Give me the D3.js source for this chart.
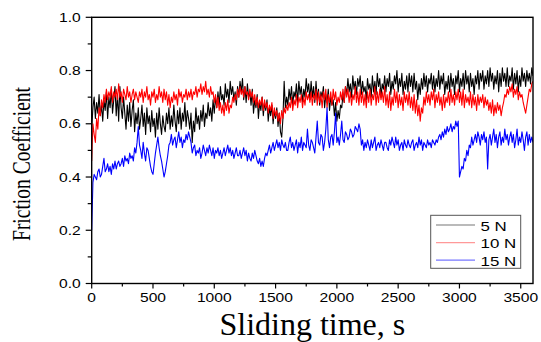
<!DOCTYPE html>
<html>
<head>
<meta charset="utf-8">
<script src="https://cdn.jsdelivr.net/npm/d3@7"></script>
<style>
  html, body { margin: 0; padding: 0; background: #fff; }
  svg { display: block; }
</style>
</head>
<body>
<div id="chart"></div>
<script>
// sampling step of the traces, s
const step = 10;

// 5 N trace (black), one value every 10 s from 0 to 3600 s
const load5N = [
  0.58, 0.66, 0.70, 0.62, 0.68, 0.64, 0.71, 0.63, 0.67, 0.61, 0.69, 0.65, 0.72, 0.62, 0.70, 0.66, 0.73, 0.64, 0.69, 0.74,
  0.63, 0.71, 0.61, 0.74, 0.66, 0.62, 0.70, 0.64, 0.58, 0.67, 0.61, 0.68, 0.59, 0.65, 0.69, 0.57, 0.64, 0.60, 0.66, 0.58,
  0.62, 0.67, 0.59, 0.64, 0.56, 0.66, 0.60, 0.63, 0.57, 0.65, 0.59, 0.62, 0.55, 0.64, 0.58, 0.66, 0.60, 0.56, 0.63, 0.59,
  0.57, 0.64, 0.60, 0.66, 0.58, 0.63, 0.59, 0.67, 0.61, 0.57, 0.65, 0.60, 0.66, 0.58, 0.64, 0.61, 0.68, 0.59, 0.65, 0.62,
  0.58, 0.64, 0.53, 0.61, 0.57, 0.66, 0.60, 0.63, 0.58, 0.65, 0.61, 0.67, 0.59, 0.64, 0.62, 0.68, 0.63, 0.66, 0.61, 0.69,
  0.64, 0.70, 0.66, 0.72, 0.67, 0.74, 0.69, 0.71, 0.67, 0.75, 0.70, 0.73, 0.68, 0.76, 0.71, 0.74, 0.69, 0.72, 0.67, 0.74,
  0.70, 0.76, 0.72, 0.77, 0.69, 0.74, 0.68, 0.75, 0.70, 0.72, 0.67, 0.73, 0.64, 0.69, 0.66, 0.71, 0.62, 0.68, 0.65, 0.70,
  0.63, 0.68, 0.65, 0.69, 0.61, 0.66, 0.63, 0.67, 0.60, 0.65, 0.62, 0.66, 0.59, 0.64, 0.57, 0.55, 0.62, 0.76, 0.66, 0.70,
  0.67, 0.73, 0.69, 0.74, 0.67, 0.72, 0.70, 0.75, 0.68, 0.76, 0.71, 0.74, 0.68, 0.73, 0.70, 0.77, 0.72, 0.75, 0.69, 0.76,
  0.70, 0.74, 0.68, 0.76, 0.69, 0.73, 0.67, 0.72, 0.70, 0.74, 0.66, 0.71, 0.68, 0.73, 0.65, 0.70, 0.67, 0.69, 0.63, 0.68,
  0.61, 0.65, 0.62, 0.67, 0.66, 0.71, 0.68, 0.74, 0.71, 0.77, 0.72, 0.75, 0.70, 0.78, 0.73, 0.76, 0.71, 0.77, 0.74, 0.78,
  0.71, 0.76, 0.72, 0.74, 0.69, 0.77, 0.73, 0.75, 0.70, 0.78, 0.72, 0.76, 0.71, 0.79, 0.74, 0.77, 0.70, 0.75, 0.73, 0.78,
  0.72, 0.77, 0.74, 0.79, 0.71, 0.76, 0.73, 0.78, 0.75, 0.80, 0.72, 0.77, 0.74, 0.79, 0.71, 0.76, 0.73, 0.78, 0.72, 0.79,
  0.74, 0.78, 0.72, 0.79, 0.73, 0.76, 0.69, 0.75, 0.71, 0.77, 0.73, 0.79, 0.74, 0.78, 0.72, 0.77, 0.75, 0.79, 0.73, 0.78,
  0.72, 0.77, 0.74, 0.80, 0.73, 0.78, 0.75, 0.79, 0.71, 0.76, 0.73, 0.78, 0.72, 0.79, 0.74, 0.77, 0.71, 0.78, 0.75, 0.80,
  0.72, 0.77, 0.74, 0.79, 0.73, 0.80, 0.75, 0.78, 0.72, 0.79, 0.74, 0.77, 0.71, 0.78, 0.75, 0.80, 0.73, 0.79, 0.76, 0.80,
  0.73, 0.78, 0.75, 0.80, 0.74, 0.81, 0.76, 0.79, 0.73, 0.78, 0.75, 0.80, 0.72, 0.79, 0.74, 0.81, 0.76, 0.79, 0.74, 0.81,
  0.74, 0.78, 0.76, 0.81, 0.73, 0.79, 0.75, 0.80, 0.72, 0.78, 0.74, 0.81, 0.76, 0.79, 0.74, 0.80, 0.76, 0.79, 0.75, 0.81,
  0.78
];

// 10 N trace (red)
const load10N = [
  0.46, 0.60, 0.56, 0.53, 0.62, 0.58, 0.66, 0.63, 0.69, 0.66, 0.71, 0.68, 0.73, 0.69, 0.72, 0.70, 0.74, 0.68, 0.72, 0.70,
  0.73, 0.69, 0.75, 0.70, 0.72, 0.68, 0.73, 0.71, 0.69, 0.74, 0.70, 0.72, 0.68, 0.71, 0.73, 0.69, 0.72, 0.70, 0.68, 0.72,
  0.70, 0.73, 0.68, 0.72, 0.70, 0.74, 0.69, 0.71, 0.67, 0.72, 0.70, 0.73, 0.68, 0.71, 0.69, 0.74, 0.70, 0.72, 0.68, 0.73,
  0.69, 0.72, 0.67, 0.71, 0.66, 0.70, 0.68, 0.72, 0.69, 0.71, 0.67, 0.73, 0.70, 0.72, 0.68, 0.71, 0.70, 0.73, 0.69, 0.72,
  0.70, 0.73, 0.69, 0.72, 0.71, 0.74, 0.70, 0.73, 0.72, 0.75, 0.71, 0.74, 0.72, 0.76, 0.71, 0.73, 0.70, 0.74, 0.71, 0.72,
  0.68, 0.71, 0.66, 0.70, 0.65, 0.68, 0.64, 0.67, 0.63, 0.68, 0.65, 0.69, 0.64, 0.67, 0.66, 0.70, 0.68, 0.71, 0.69, 0.73,
  0.70, 0.74, 0.71, 0.73, 0.70, 0.74, 0.71, 0.72, 0.69, 0.73, 0.70, 0.72, 0.68, 0.71, 0.67, 0.70, 0.66, 0.69, 0.67, 0.70,
  0.65, 0.69, 0.66, 0.68, 0.64, 0.67, 0.65, 0.68, 0.62, 0.66, 0.63, 0.65, 0.61, 0.64, 0.60, 0.65, 0.62, 0.66, 0.64, 0.67,
  0.65, 0.68, 0.66, 0.70, 0.65, 0.69, 0.67, 0.71, 0.66, 0.70, 0.68, 0.71, 0.66, 0.70, 0.67, 0.72, 0.69, 0.71, 0.68, 0.72,
  0.67, 0.71, 0.69, 0.73, 0.67, 0.72, 0.68, 0.71, 0.66, 0.72, 0.69, 0.73, 0.66, 0.71, 0.68, 0.72, 0.67, 0.73, 0.69, 0.72,
  0.67, 0.70, 0.68, 0.72, 0.69, 0.73, 0.68, 0.74, 0.70, 0.73, 0.68, 0.72, 0.67, 0.71, 0.69, 0.74, 0.68, 0.72, 0.67, 0.73,
  0.68, 0.72, 0.67, 0.71, 0.66, 0.72, 0.68, 0.73, 0.67, 0.71, 0.69, 0.74, 0.67, 0.72, 0.68, 0.73, 0.69, 0.72, 0.68, 0.74,
  0.67, 0.71, 0.66, 0.72, 0.65, 0.70, 0.67, 0.73, 0.68, 0.72, 0.66, 0.71, 0.67, 0.70, 0.65, 0.72, 0.68, 0.71, 0.67, 0.72,
  0.66, 0.70, 0.65, 0.71, 0.64, 0.69, 0.63, 0.67, 0.61, 0.66, 0.64, 0.70, 0.67, 0.72, 0.68, 0.71, 0.67, 0.72, 0.69, 0.73,
  0.66, 0.71, 0.68, 0.72, 0.67, 0.70, 0.65, 0.71, 0.66, 0.70, 0.68, 0.72, 0.67, 0.73, 0.68, 0.71, 0.67, 0.72, 0.69, 0.73,
  0.68, 0.72, 0.67, 0.73, 0.66, 0.71, 0.68, 0.70, 0.67, 0.72, 0.66, 0.71, 0.67, 0.70, 0.65, 0.71, 0.67, 0.70, 0.68, 0.71,
  0.66, 0.70, 0.67, 0.69, 0.65, 0.68, 0.64, 0.69, 0.63, 0.67, 0.64, 0.68, 0.65, 0.67, 0.63, 0.66, 0.68, 0.71, 0.70, 0.73,
  0.71, 0.74, 0.72, 0.75, 0.70, 0.73, 0.71, 0.74, 0.69, 0.72, 0.70, 0.71, 0.68, 0.66, 0.64, 0.67, 0.70, 0.73, 0.72, 0.75,
  0.76
];

// 15 N trace (blue)
const load15N = [
  0.20, 0.38, 0.41, 0.40, 0.39, 0.42, 0.43, 0.40, 0.41, 0.44, 0.47, 0.42, 0.43, 0.45, 0.42, 0.44, 0.41, 0.45, 0.43, 0.46,
  0.43, 0.45, 0.46, 0.44, 0.45, 0.47, 0.44, 0.48, 0.46, 0.47, 0.45, 0.49, 0.47, 0.48, 0.46, 0.51, 0.49, 0.53, 0.59, 0.52,
  0.50, 0.47, 0.53, 0.49, 0.46, 0.51, 0.50, 0.47, 0.44, 0.42, 0.41, 0.45, 0.49, 0.52, 0.55, 0.51, 0.48, 0.46, 0.43, 0.40,
  0.42, 0.45, 0.48, 0.52, 0.53, 0.56, 0.52, 0.54, 0.55, 0.51, 0.54, 0.57, 0.53, 0.55, 0.51, 0.54, 0.53, 0.56, 0.54, 0.57,
  0.55, 0.53, 0.49, 0.51, 0.52, 0.48, 0.50, 0.49, 0.51, 0.47, 0.49, 0.52, 0.50, 0.48, 0.51, 0.49, 0.52, 0.50, 0.48, 0.51,
  0.47, 0.50, 0.49, 0.51, 0.48, 0.50, 0.47, 0.49, 0.51, 0.48, 0.50, 0.52, 0.49, 0.51, 0.48, 0.50, 0.47, 0.49, 0.51, 0.48,
  0.48, 0.50, 0.47, 0.49, 0.51, 0.48, 0.50, 0.46, 0.49, 0.47, 0.46, 0.49, 0.47, 0.50, 0.48, 0.46, 0.45, 0.47, 0.44, 0.46,
  0.44, 0.47, 0.49, 0.48, 0.50, 0.52, 0.49, 0.51, 0.53, 0.50, 0.52, 0.54, 0.51, 0.53, 0.50, 0.54, 0.52, 0.51, 0.53, 0.50,
  0.50, 0.53, 0.55, 0.51, 0.53, 0.50, 0.52, 0.54, 0.49, 0.53, 0.51, 0.55, 0.50, 0.53, 0.52, 0.51, 0.58, 0.52, 0.50, 0.54,
  0.53, 0.51, 0.49, 0.55, 0.61, 0.53, 0.52, 0.56, 0.55, 0.50, 0.53, 0.58, 0.66, 0.54, 0.51, 0.55, 0.56, 0.52, 0.57, 0.64,
  0.53, 0.55, 0.52, 0.56, 0.61, 0.54, 0.53, 0.57, 0.56, 0.54, 0.55, 0.58, 0.57, 0.55, 0.56, 0.59, 0.58, 0.57, 0.60, 0.58,
  0.52, 0.54, 0.50, 0.53, 0.51, 0.54, 0.52, 0.50, 0.54, 0.51, 0.53, 0.55, 0.50, 0.52, 0.53, 0.51, 0.54, 0.52, 0.50, 0.53,
  0.53, 0.51, 0.50, 0.54, 0.52, 0.55, 0.53, 0.51, 0.55, 0.52, 0.54, 0.50, 0.52, 0.53, 0.50, 0.54, 0.52, 0.51, 0.54, 0.52,
  0.51, 0.53, 0.54, 0.50, 0.52, 0.53, 0.51, 0.55, 0.52, 0.54, 0.50, 0.53, 0.52, 0.51, 0.54, 0.52, 0.53, 0.51, 0.54, 0.53,
  0.52, 0.54, 0.53, 0.55, 0.56, 0.54, 0.57, 0.55, 0.58, 0.56, 0.59, 0.57, 0.58, 0.60, 0.57, 0.59, 0.58, 0.61, 0.59, 0.61,
  0.40, 0.42, 0.44, 0.43, 0.47, 0.46, 0.50, 0.48, 0.52, 0.51, 0.55, 0.52, 0.54, 0.56, 0.53, 0.57, 0.55, 0.52, 0.56, 0.54,
  0.57, 0.53, 0.55, 0.43, 0.54, 0.56, 0.52, 0.55, 0.58, 0.53, 0.56, 0.51, 0.55, 0.57, 0.52, 0.55, 0.53, 0.58, 0.54, 0.56,
  0.52, 0.55, 0.57, 0.53, 0.56, 0.51, 0.54, 0.58, 0.52, 0.55, 0.53, 0.57, 0.54, 0.50, 0.55, 0.57, 0.52, 0.56, 0.53, 0.55,
  0.53
];

const seriesNames = ["5 N", "10 N", "15 N"];
const seriesColors = ["#000000", "#ff0000", "#0000ff"];
const legendColors = ["#777777", "#ff9999", "#7777ff"];
const xTicks = [0, 500, 1000, 1500, 2000, 2500, 3000, 3500];
const yTicks = [0.0, 0.2, 0.4, 0.6, 0.8, 1.0];

const width = 541, height = 342;
// tick and legend labels in the reference are a little wide
const stretch = 1.25;

const x = d3.scaleLinear().domain([0, 3600]).range([91.7, 533]);
const y = d3.scaleLinear().domain([0, 1]).range([283.5, 17.3]);

const svg = d3.select("#chart").append("svg")
  .attr("width", width)
  .attr("height", height)
  .style("background", "#fff");

svg.append("clipPath").attr("id", "plot-clip")
  .append("rect")
  .attr("x", x(0)).attr("y", y(1))
  .attr("width", x(3600) - x(0)).attr("height", y(0) - y(1));

// traces
const line = d3.line()
  .x((d, i) => x(i * step))
  .y(d => y(d));

const traces = [load5N, load10N, load15N];
svg.append("g")
  .attr("clip-path", "url(#plot-clip)")
  .selectAll("path")
  .data(traces)
  .join("path")
  .attr("fill", "none")
  .attr("stroke", (d, i) => seriesColors[i])
  .attr("stroke-width", 1.1)
  .attr("stroke-linejoin", "round")
  .attr("d", line);

// frame
svg.append("rect")
  .attr("x", x(0)).attr("y", y(1))
  .attr("width", x(3600) - x(0)).attr("height", y(0) - y(1))
  .attr("fill", "none")
  .attr("stroke", "#000")
  .attr("stroke-width", 1.4);

// minor ticks
const xMinor = d3.range(250, 3600, 500);
const yMinor = d3.range(0.1, 1, 0.2);

const xAxis = svg.append("g").attr("transform", `translate(0,${y(0)})`);
xAxis.selectAll("line.major").data(xTicks).join("line")
  .attr("class", "major")
  .attr("x1", d => x(d)).attr("x2", d => x(d))
  .attr("y1", 0).attr("y2", 5)
  .attr("stroke", "#000").attr("stroke-width", 1.2);
xAxis.selectAll("line.minor").data(xMinor).join("line")
  .attr("class", "minor")
  .attr("x1", d => x(d)).attr("x2", d => x(d))
  .attr("y1", 0).attr("y2", 3)
  .attr("stroke", "#000").attr("stroke-width", 1.2);
xAxis.selectAll("text").data(xTicks).join("text")
  .attr("transform", d => `translate(${x(d)},18.5) scale(${stretch},1)`)
  .attr("text-anchor", "middle")
  .attr("font-family", "'Liberation Sans', Arial, sans-serif")
  .attr("font-size", 12.5)
  .attr("fill", "#000")
  .text(d => d);

const yAxis = svg.append("g").attr("transform", `translate(${x(0)},0)`);
yAxis.selectAll("line.major").data(yTicks).join("line")
  .attr("class", "major")
  .attr("x1", 0).attr("x2", -6)
  .attr("y1", d => y(d)).attr("y2", d => y(d))
  .attr("stroke", "#000").attr("stroke-width", 1.2);
yAxis.selectAll("line.minor").data(yMinor).join("line")
  .attr("class", "minor")
  .attr("x1", 0).attr("x2", -4)
  .attr("y1", d => y(d)).attr("y2", d => y(d))
  .attr("stroke", "#000").attr("stroke-width", 1.2);
yAxis.selectAll("text").data(yTicks).join("text")
  .attr("transform", d => `translate(-11,${y(d) + 4.5}) scale(${stretch},1)`)
  .attr("text-anchor", "end")
  .attr("font-family", "'Liberation Sans', Arial, sans-serif")
  .attr("font-size", 12.5)
  .attr("fill", "#000")
  .text(d => d.toFixed(1));

// axis titles
svg.append("text")
  .attr("x", (x(0) + x(3600)) / 2)
  .attr("y", 335)
  .attr("text-anchor", "middle")
  .attr("font-family", "'Liberation Serif', 'Times New Roman', serif")
  .attr("font-size", 32)
  .attr("fill", "#000")
  .text("Sliding time, s");

svg.append("text")
  .attr("transform", `translate(30,164) scale(${stretch},1) rotate(-90)`)
  .attr("text-anchor", "middle")
  .attr("font-family", "'Liberation Serif', 'Times New Roman', serif")
  .attr("font-size", 19.5)
  .attr("fill", "#000")
  .text("Friction Coefficient");

// legend
const legend = svg.append("g");
legend.append("rect")
  .attr("x", 430.7).attr("y", 215.3)
  .attr("width", 90).attr("height", 53)
  .attr("fill", "#fff")
  .attr("stroke", "#555")
  .attr("stroke-width", 1);

const rows = legend.selectAll("g.row").data(seriesNames).join("g")
  .attr("class", "row")
  .attr("transform", (d, i) => `translate(0,${225 + i * 17.6})`);
rows.append("line")
  .attr("x1", 436).attr("x2", 475)
  .attr("y1", 0).attr("y2", 0)
  .attr("stroke", (d, i) => legendColors[i])
  .attr("stroke-width", 1.2);
rows.append("text")
  .attr("transform", `translate(480.5,5.5) scale(${stretch},1)`)
  .attr("font-family", "'Liberation Sans', Arial, sans-serif")
  .attr("font-size", 13.5)
  .attr("fill", "#000")
  .text(d => d);
</script>
</body>
</html>
